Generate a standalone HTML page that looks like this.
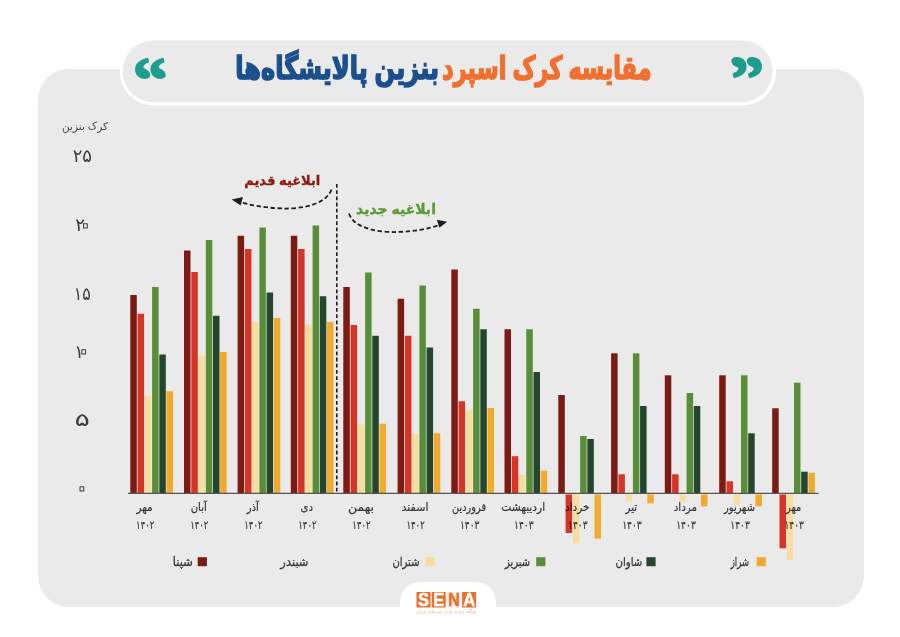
<!DOCTYPE html>
<html lang="fa"><head><meta charset="utf-8"><title>مقایسه کرک اسپرد بنزین پالایشگاه‌ها</title>
<style>
html,body{margin:0;padding:0;background:#fff;}
body{width:900px;height:637px;overflow:hidden;position:relative;font-family:"Liberation Sans","DejaVu Sans",sans-serif;}
svg{position:absolute;left:0;top:0;display:block}
svg text{font-family:"Liberation Sans","DejaVu Sans",sans-serif;}
.mon{font-size:11.5px;fill:#3a3a3a;stroke:#3a3a3a;stroke-width:0.2px;text-anchor:middle;}
.yl{font-size:18px;fill:#3c3c3c;text-anchor:middle;}
.lg{font-size:12.5px;fill:#333;stroke:#333;stroke-width:0.25px;text-anchor:start;direction:rtl;}
.ttl{font-size:29px;font-weight:bold;}
.ann{font-size:13px;font-weight:bold;}
</style></head><body>
<svg width="900" height="637" viewBox="0 0 900 637">
<rect x="38" y="69" width="826" height="538" rx="31" ry="31" fill="#ebeaea"/>
<rect x="119.7" y="37.4" width="656.6" height="68.1" rx="34.05" ry="34.05" fill="#fff"/>
<rect x="122.6" y="40.5" width="650" height="61.8" rx="30.9" ry="30.9" fill="#ebeaea"/>
<!-- white tab for logo -->
<path d="M400 608 L400 604 Q400 582 424 582 L472 582 Q496 582 496 604 L496 608 Z" fill="#fff"/>
<rect x="396" y="607" width="104" height="3" fill="#fff"/>
<!-- title -->
<text transform="translate(651.5,79.3) scale(0.771,1.1)" class="ttl" direction="rtl" text-anchor="start" fill="#f0702f" stroke="#f0702f" stroke-width="1.5">مقایسه کرک اسپرد</text>
<text transform="translate(439,79.3) scale(0.83,1.1)" class="ttl" direction="rtl" text-anchor="start" fill="#1c4f8e" stroke="#1c4f8e" stroke-width="1.5">بنزین پالایشگاه‌ها</text>
<!-- quotes -->
<text transform="translate(157.3,101.3) skewX(13) scale(1.15,1.04)" font-size="61" font-weight="bold" fill="#1e9c8d" stroke="#1e9c8d" stroke-width="1.8" stroke-linejoin="round" text-anchor="middle" style="font-family:'Liberation Serif',serif">“</text>
<text transform="translate(754.6,100.4) skewX(13) scale(1.15,1.04)" font-size="61" font-weight="bold" fill="#1e9c8d" stroke="#1e9c8d" stroke-width="1.8" stroke-linejoin="round" text-anchor="middle" style="font-family:'Liberation Serif',serif">”</text>
<!-- axis title -->
<text x="85" y="129.5" font-size="10.5" fill="#444" text-anchor="middle">کرک بنزین</text>
<text x="82.3" y="162" class="yl">۲۵</text>
<text x="80.2" y="230.5" class="yl">۲</text>
<text x="85.3" y="235.90" class="yl" style="font-size:35px;fill:none;stroke:#3c3c3c;stroke-width:1px;stroke-linejoin:round">۰</text>
<text transform="translate(82.3,300) scale(0.88,1)" class="yl">۱۵</text>
<text x="79" y="357.6" class="yl">۱</text>
<text x="83.6" y="362.00" class="yl" style="font-size:35px;fill:none;stroke:#3c3c3c;stroke-width:1px;stroke-linejoin:round">۰</text>
<text transform="translate(82.3,425.8) scale(1.6,1)" class="yl">۵</text>
<text x="81.8" y="498.90" class="yl" style="font-size:35px;fill:none;stroke:#3c3c3c;stroke-width:1px;stroke-linejoin:round">۰</text>
<!-- bars -->
<rect x="130.30" y="295.00" width="6.5" height="198.00" fill="#7b1b13"/>
<rect x="137.60" y="313.75" width="6.5" height="179.25" fill="#d63427"/>
<rect x="144.80" y="395.75" width="6.5" height="97.25" fill="#f7dea0"/>
<rect x="152.10" y="287.00" width="6.5" height="206.00" fill="#588e38"/>
<rect x="159.30" y="354.50" width="6.5" height="138.50" fill="#24462e"/>
<rect x="166.50" y="391.25" width="6.5" height="101.75" fill="#f1aa2c"/>
<rect x="184.00" y="250.50" width="6.5" height="242.50" fill="#7b1b13"/>
<rect x="191.30" y="272.00" width="6.5" height="221.00" fill="#d63427"/>
<rect x="198.50" y="355.50" width="6.5" height="137.50" fill="#f7dea0"/>
<rect x="205.80" y="240.00" width="6.5" height="253.00" fill="#588e38"/>
<rect x="213.00" y="315.75" width="6.5" height="177.25" fill="#24462e"/>
<rect x="220.20" y="352.00" width="6.5" height="141.00" fill="#f1aa2c"/>
<rect x="237.60" y="235.75" width="6.5" height="257.25" fill="#7b1b13"/>
<rect x="244.90" y="249.00" width="6.5" height="244.00" fill="#d63427"/>
<rect x="252.10" y="322.00" width="6.5" height="171.00" fill="#f7dea0"/>
<rect x="259.40" y="227.50" width="6.5" height="265.50" fill="#588e38"/>
<rect x="266.60" y="292.50" width="6.5" height="200.50" fill="#24462e"/>
<rect x="273.80" y="318.00" width="6.5" height="175.00" fill="#f1aa2c"/>
<rect x="290.80" y="235.75" width="6.5" height="257.25" fill="#7b1b13"/>
<rect x="298.10" y="249.00" width="6.5" height="244.00" fill="#d63427"/>
<rect x="305.30" y="324.50" width="6.5" height="168.50" fill="#f7dea0"/>
<rect x="312.60" y="225.50" width="6.5" height="267.50" fill="#588e38"/>
<rect x="319.80" y="296.25" width="6.5" height="196.75" fill="#24462e"/>
<rect x="327.00" y="322.00" width="6.5" height="171.00" fill="#f1aa2c"/>
<rect x="343.30" y="287.00" width="6.5" height="206.00" fill="#7b1b13"/>
<rect x="350.60" y="325.00" width="6.5" height="168.00" fill="#d63427"/>
<rect x="357.80" y="424.50" width="6.5" height="68.50" fill="#f7dea0"/>
<rect x="365.10" y="272.50" width="6.5" height="220.50" fill="#588e38"/>
<rect x="372.30" y="335.75" width="6.5" height="157.25" fill="#24462e"/>
<rect x="379.50" y="423.75" width="6.5" height="69.25" fill="#f1aa2c"/>
<rect x="397.60" y="298.75" width="6.5" height="194.25" fill="#7b1b13"/>
<rect x="404.90" y="335.75" width="6.5" height="157.25" fill="#d63427"/>
<rect x="412.10" y="433.75" width="6.5" height="59.25" fill="#f7dea0"/>
<rect x="419.40" y="285.50" width="6.5" height="207.50" fill="#588e38"/>
<rect x="426.60" y="347.50" width="6.5" height="145.50" fill="#24462e"/>
<rect x="433.80" y="433.25" width="6.5" height="59.75" fill="#f1aa2c"/>
<rect x="451.30" y="269.50" width="6.5" height="223.50" fill="#7b1b13"/>
<rect x="458.60" y="401.25" width="6.5" height="91.75" fill="#d63427"/>
<rect x="465.80" y="410.00" width="6.5" height="83.00" fill="#f7dea0"/>
<rect x="473.10" y="308.75" width="6.5" height="184.25" fill="#588e38"/>
<rect x="480.30" y="329.25" width="6.5" height="163.75" fill="#24462e"/>
<rect x="487.50" y="408.00" width="6.5" height="85.00" fill="#f1aa2c"/>
<rect x="504.50" y="329.25" width="6.5" height="163.75" fill="#7b1b13"/>
<rect x="511.80" y="456.25" width="6.5" height="36.75" fill="#d63427"/>
<rect x="519.00" y="475.00" width="6.5" height="18.00" fill="#f7dea0"/>
<rect x="526.30" y="329.25" width="6.5" height="163.75" fill="#588e38"/>
<rect x="533.50" y="372.00" width="6.5" height="121.00" fill="#24462e"/>
<rect x="540.70" y="470.75" width="6.5" height="22.25" fill="#f1aa2c"/>
<rect x="558.30" y="395.00" width="6.5" height="98.00" fill="#7b1b13"/>
<rect x="565.60" y="494.50" width="6.5" height="38.50" fill="#d63427"/>
<rect x="572.80" y="494.50" width="6.5" height="48.80" fill="#f7dea0"/>
<rect x="580.10" y="436.00" width="6.5" height="57.00" fill="#588e38"/>
<rect x="587.30" y="439.00" width="6.5" height="54.00" fill="#24462e"/>
<rect x="594.50" y="494.50" width="6.5" height="44.20" fill="#f1aa2c"/>
<rect x="611.10" y="353.30" width="6.5" height="139.70" fill="#7b1b13"/>
<rect x="618.40" y="474.30" width="6.5" height="18.70" fill="#d63427"/>
<rect x="625.60" y="494.50" width="6.5" height="7.20" fill="#f7dea0"/>
<rect x="632.90" y="353.30" width="6.5" height="139.70" fill="#588e38"/>
<rect x="640.10" y="406.00" width="6.5" height="87.00" fill="#24462e"/>
<rect x="647.30" y="494.50" width="6.5" height="8.80" fill="#f1aa2c"/>
<rect x="664.80" y="375.30" width="6.5" height="117.70" fill="#7b1b13"/>
<rect x="672.10" y="474.30" width="6.5" height="18.70" fill="#d63427"/>
<rect x="679.30" y="494.50" width="6.5" height="7.20" fill="#f7dea0"/>
<rect x="686.60" y="393.00" width="6.5" height="100.00" fill="#588e38"/>
<rect x="693.80" y="406.00" width="6.5" height="87.00" fill="#24462e"/>
<rect x="701.00" y="494.50" width="6.5" height="11.80" fill="#f1aa2c"/>
<rect x="719.20" y="375.30" width="6.5" height="117.70" fill="#7b1b13"/>
<rect x="726.50" y="481.30" width="6.5" height="11.70" fill="#d63427"/>
<rect x="733.70" y="494.50" width="6.5" height="10.50" fill="#f7dea0"/>
<rect x="741.00" y="375.30" width="6.5" height="117.70" fill="#588e38"/>
<rect x="748.20" y="433.30" width="6.5" height="59.70" fill="#24462e"/>
<rect x="755.40" y="494.50" width="6.5" height="11.80" fill="#f1aa2c"/>
<rect x="772.20" y="408.30" width="6.5" height="84.70" fill="#7b1b13"/>
<rect x="779.50" y="494.50" width="6.5" height="53.80" fill="#d63427"/>
<rect x="786.70" y="494.50" width="6.5" height="65.80" fill="#f7dea0"/>
<rect x="794.00" y="382.70" width="6.5" height="110.30" fill="#588e38"/>
<rect x="801.20" y="471.70" width="6.5" height="21.30" fill="#24462e"/>
<rect x="808.40" y="472.70" width="6.5" height="20.30" fill="#f1aa2c"/>
<!-- labels under -->
<g style="mix-blend-mode:multiply">
<text transform="translate(144.6,510.8) scale(0.91,1)" class="mon">مهر</text>
<text transform="translate(145.2,528.6) scale(0.74,1)" class="mon">۱۴۰۲</text>
<text transform="translate(198.7,510.8) scale(0.88,1)" class="mon">آبان</text>
<text transform="translate(199.3,528.6) scale(0.74,1)" class="mon">۱۴۰۲</text>
<text transform="translate(252.8,510.8) scale(0.88,1)" class="mon">آذر</text>
<text transform="translate(253.4,528.6) scale(0.74,1)" class="mon">۱۴۰۲</text>
<text transform="translate(306.8,510.8) scale(0.89,1)" class="mon">دی</text>
<text transform="translate(307.4,528.6) scale(0.74,1)" class="mon">۱۴۰۲</text>
<text transform="translate(360.9,510.8) scale(1.09,1)" class="mon">بهمن</text>
<text transform="translate(361.5,528.6) scale(0.74,1)" class="mon">۱۴۰۲</text>
<text transform="translate(415.0,510.8) scale(0.96,1)" class="mon">اسفند</text>
<text transform="translate(415.6,528.6) scale(0.74,1)" class="mon">۱۴۰۲</text>
<text transform="translate(469.1,510.8) scale(0.85,1)" class="mon">فروردین</text>
<text transform="translate(469.7,528.6) scale(0.79,1)" class="mon">۱۴۰۳</text>
<text transform="translate(523.2,510.8) scale(0.93,1)" class="mon">اردیبهشت</text>
<text transform="translate(523.8,528.6) scale(0.79,1)" class="mon">۱۴۰۳</text>
<text transform="translate(577.2,510.8) scale(0.91,1)" class="mon">خرداد</text>
<text transform="translate(577.8,528.6) scale(0.79,1)" class="mon">۱۴۰۳</text>
<text transform="translate(631.3,510.8) scale(0.89,1)" class="mon">تیر</text>
<text transform="translate(631.9,528.6) scale(0.79,1)" class="mon">۱۴۰۳</text>
<text transform="translate(685.4,510.8) scale(0.9,1)" class="mon">مرداد</text>
<text transform="translate(686.0,528.6) scale(0.79,1)" class="mon">۱۴۰۳</text>
<text transform="translate(739.5,510.8) scale(0.86,1)" class="mon">شهریور</text>
<text transform="translate(740.1,528.6) scale(0.79,1)" class="mon">۱۴۰۳</text>
<text transform="translate(793.6,510.8) scale(0.85,1)" class="mon">مهر</text>
<text transform="translate(794.2,528.6) scale(0.79,1)" class="mon">۱۴۰۳</text>
</g>
<line x1="128" y1="493.4" x2="818.5" y2="493.4" stroke="#5a5555" stroke-width="1.3"/>
<!-- divider -->
<line x1="336.8" y1="184" x2="336.8" y2="492" stroke="#1e1e1e" stroke-width="1.6" stroke-dasharray="3.8 2.4"/>
<!-- annotations -->
<text x="282.3" y="184.5" class="ann" fill="#8b1c13" stroke="#8b1c13" stroke-width="0.35" text-anchor="middle">ابلاغیه قدیم</text>
<text x="396" y="213.5" class="ann" font-size="14" style="font-size:14px" fill="#5b9a3a" stroke="#5b9a3a" stroke-width="0.35" text-anchor="middle">ابلاغیه جدید</text>
<path d="M331.5 189.5 C326 205 300 209 283 208.5 C265 208 250 205 240 202" fill="none" stroke="#1e1e1e" stroke-width="1.8" stroke-dasharray="4.4 2.6"/>
<path d="M231.8 199.4 L243 197 L240.6 205.6 Z" fill="#1e1e1e"/>
<path d="M349 213.5 C354 229 380 232.5 397 232 C415 231.5 430 228.5 439 225" fill="none" stroke="#1e1e1e" stroke-width="1.8" stroke-dasharray="4.4 2.6"/>
<path d="M447.2 221.8 L436.8 219.8 L439.4 227.8 Z" fill="#1e1e1e"/>
<!-- legend -->
<text transform="translate(192.9,566) scale(0.92,1)" class="lg">شپنا</text>
<rect x="197.7" y="557.2" width="9.2" height="9" fill="#7b1b13"/>
<text transform="translate(308.5,566) scale(0.92,1)" class="lg">شبندر</text>
<text transform="translate(419.5,566) scale(0.8,1)" class="lg">شتران</text>
<rect x="425.4" y="557.2" width="9.2" height="9" fill="#f7dea0"/>
<text transform="translate(530.2,566) scale(0.8,1)" class="lg">شبریز</text>
<rect x="536.2" y="557.2" width="9.2" height="9" fill="#588e38"/>
<text transform="translate(642.3,566) scale(0.81,1)" class="lg">شاوان</text>
<rect x="646.4" y="557.2" width="9.2" height="9" fill="#24462e"/>
<text transform="translate(749,566) scale(0.68,1)" class="lg">شراز</text>
<rect x="756.6" y="557.2" width="9.2" height="9" fill="#f1aa2c"/>
<!-- logo -->
<g style="font-family:'Liberation Sans',sans-serif" font-weight="bold" font-size="18" text-anchor="middle" stroke-width="0.4">
<rect x="416.5" y="592" width="14" height="15.5" fill="#e9702e"/>
<rect x="431.7" y="592" width="14" height="15.5" fill="#e9702e"/>
<rect x="446.9" y="592" width="14" height="15.5" fill="#f3ece6"/>
<rect x="462.1" y="592" width="14" height="15.5" fill="#e9702e"/>
<text transform="translate(423.5,606.4) scale(0.92,1)" fill="#fff" stroke="#fff">S</text>
<text transform="translate(438.7,606.4) scale(0.92,1)" fill="#fff" stroke="#fff">E</text>
<text transform="translate(453.9,606.4) scale(0.92,1)" fill="#e9702e" stroke="#e9702e">N</text>
<text transform="translate(469.1,606.4) scale(0.92,1)" fill="#fff" stroke="#fff">A</text>
</g>
<text x="446.3" y="613.3" font-size="4.8" fill="#eeb091" text-anchor="middle">پایگاه خبری بازار سرمایه ایران</text>
</svg>
</body></html>
